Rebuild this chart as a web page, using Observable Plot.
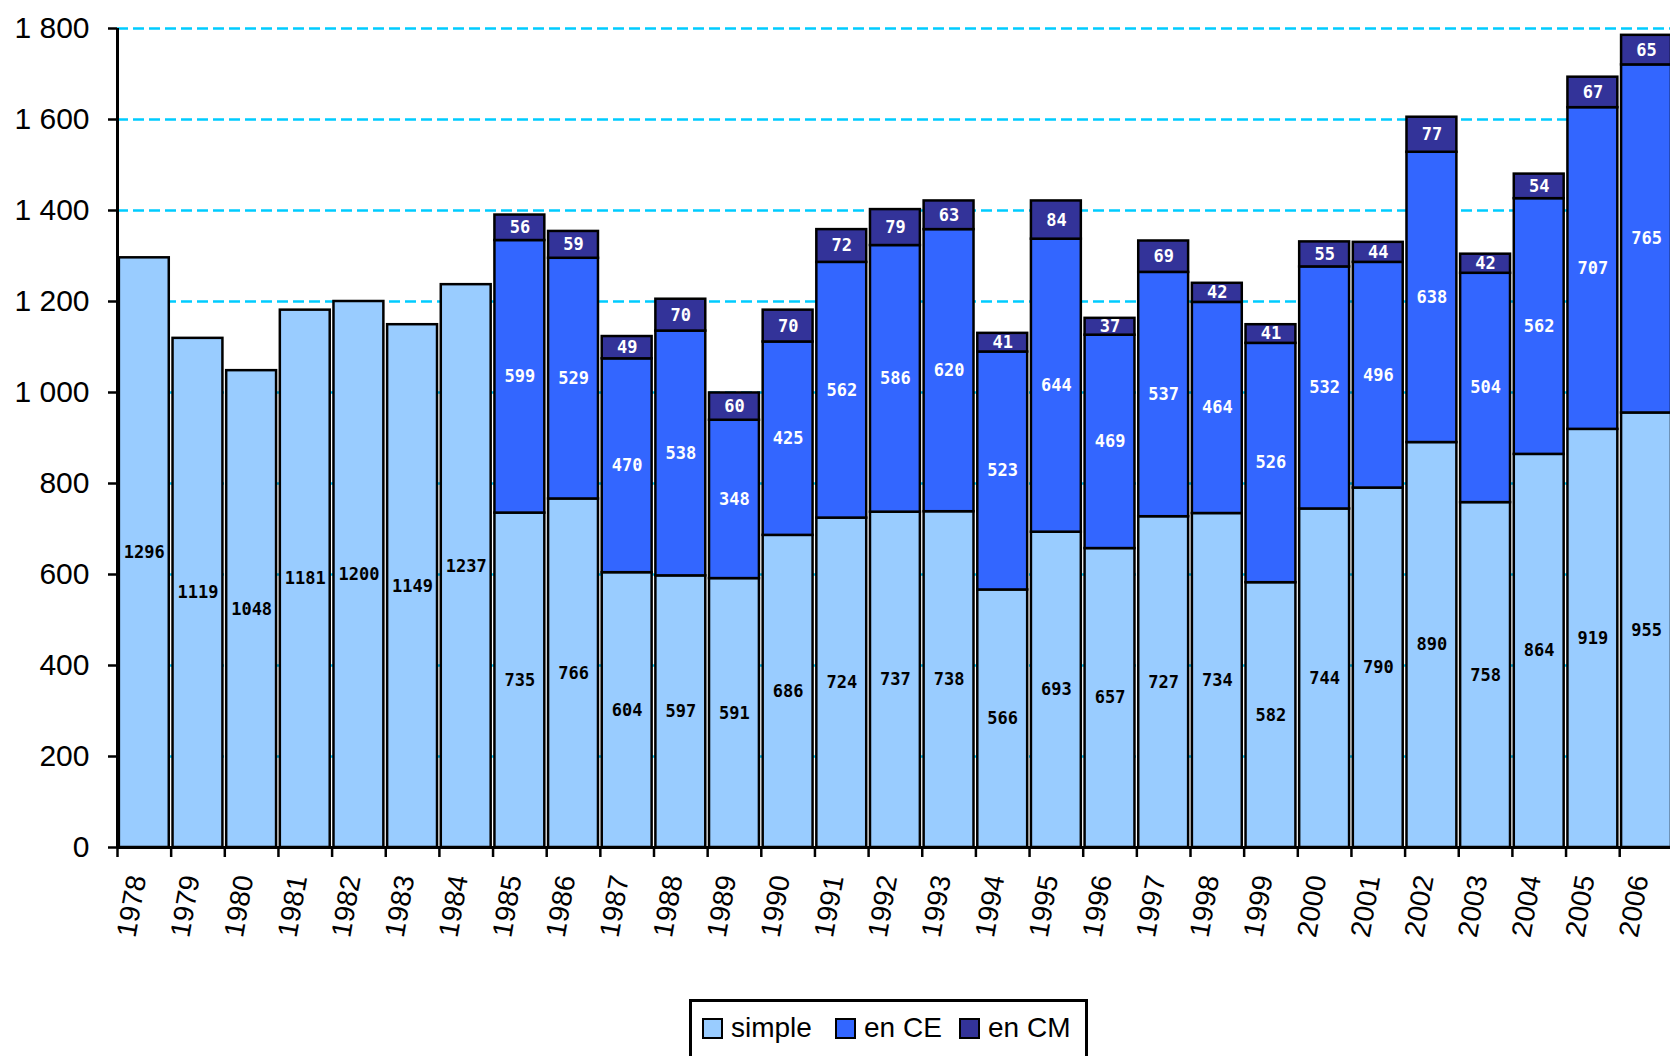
<!DOCTYPE html>
<html>
<head>
<meta charset="utf-8">
<script src="https://cdn.jsdelivr.net/npm/d3@7"></script>
<script src="https://cdn.jsdelivr.net/npm/@observablehq/plot@0.6"></script>
<style>
  html, body { margin: 0; padding: 0; background: white; overflow: hidden; }
  #wrap { position: relative; width: 1670px; height: 1056px; }
  #legend {
    position: absolute; left: 689px; top: 999px; width: 393px; height: 70px;
    border: 3px solid black; box-sizing: content-box; background: white;
    font-family: "Liberation Sans", Arial, sans-serif; font-size: 28px; color: black;
  }
  .item { position: absolute; top: 10px; display: flex; align-items: center; }
  .sw { width: 17px; height: 17px; border: 2px solid black; margin-right: 8px; }
</style>
</head>
<body>
<div id="wrap">
  <div id="chart"></div>
  <div id="legend"></div>
</div>
<script>
const years = [1978,1979,1980,1981,1982,1983,1984,1985,1986,1987,1988,1989,1990,1991,1992,1993,1994,1995,1996,1997,1998,1999,2000,2001,2002,2003,2004,2005,2006];
const simple = [1296,1119,1048,1181,1200,1149,1237,735,766,604,597,591,686,724,737,738,566,693,657,727,734,582,744,790,890,758,864,919,955];
const enCE = [null,null,null,null,null,null,null,599,529,470,538,348,425,562,586,620,523,644,469,537,464,526,532,496,638,504,562,707,765];
const enCM = [null,null,null,null,null,null,null,56,59,49,70,60,70,72,79,63,41,84,37,69,42,41,55,44,77,42,54,67,65];
const seriesNames = ["simple", "en CE", "en CM"];
const seriesColors = ["#99CCFF", "#3366FF", "#333399"];
const yTicks = [0,200,400,600,800,1000,1200,1400,1600,1800];

const colorOf = Object.fromEntries(seriesNames.map((s, i) => [s, seriesColors[i]]));
const table = [];
years.forEach((yr, i) => {
  const vals = [simple[i], enCE[i], enCM[i]];
  vals.forEach((v, k) => { if (v != null) table.push({year: yr, series: seriesNames[k], value: v}); });
});

const x0 = 117, step = 53.65;
const fmt = d3.formatLocale({thousands: " ", grouping: [3], decimal: ",", currency: ["", ""]}).format(",d");

const chart = Plot.plot({
  width: 1670,
  height: 970,
  marginLeft: 117,
  marginRight: -3,
  marginTop: 28,
  marginBottom: 123,
  style: {fontFamily: "'Liberation Sans', Arial, sans-serif", background: "white", overflow: "visible"},
  x: {domain: years, range: [x0, x0 + years.length * step], paddingInner: 0.07, paddingOuter: 0.035, align: 0.5, round: false},
  y: {domain: [0, 1800], range: [847, 28]},
  marks: [
    Plot.ruleY(yTicks.filter(v => v > 0), {stroke: "#00CCFF", strokeWidth: 2.5, strokeDasharray: "11,5"}),
    Plot.barY(table, {x: "year", y: "value", fill: d => colorOf[d.series], stroke: "black", strokeWidth: 2.5}),
    Plot.text(table, Plot.stackY({
      x: "year", y: "value", text: d => String(d.value),
      fill: d => d.series === "simple" ? "black" : "white",
      fontSize: 17, fontWeight: "bold", fontFamily: "'DejaVu Sans Mono', 'Liberation Mono', monospace"
    })),
    Plot.ruleY([0], {stroke: "black", strokeWidth: 3}),
    Plot.ruleX([years[0]], {dx: -step / 2, y1: 0, y2: 1800, stroke: "black", strokeWidth: 3}),
    Plot.ruleX(years, {dx: -step / 2, y1: 0, y2: -22, stroke: "black", strokeWidth: 2.5}),
    Plot.axisY({ticks: yTicks, tickSize: 9, tickPadding: 19, fontSize: 30, tickFormat: fmt, strokeWidth: 2.5, label: null}),
    Plot.axisX({tickSize: 0, tickRotate: -80, tickPadding: 28, fontSize: 28, dx: -7, tickFormat: d => String(d), label: null})
  ]
});
document.getElementById("chart").appendChild(chart);

const legend = document.getElementById("legend");
const offsets = [10, 143, 267];
seriesNames.forEach((s, i) => {
  const it = document.createElement("div");
  it.className = "item";
  it.style.left = offsets[i] + "px";
  it.innerHTML = `<div class="sw" style="background:${seriesColors[i]}"></div><span>${s}</span>`;
  legend.appendChild(it);
});
</script>
</body>
</html>
